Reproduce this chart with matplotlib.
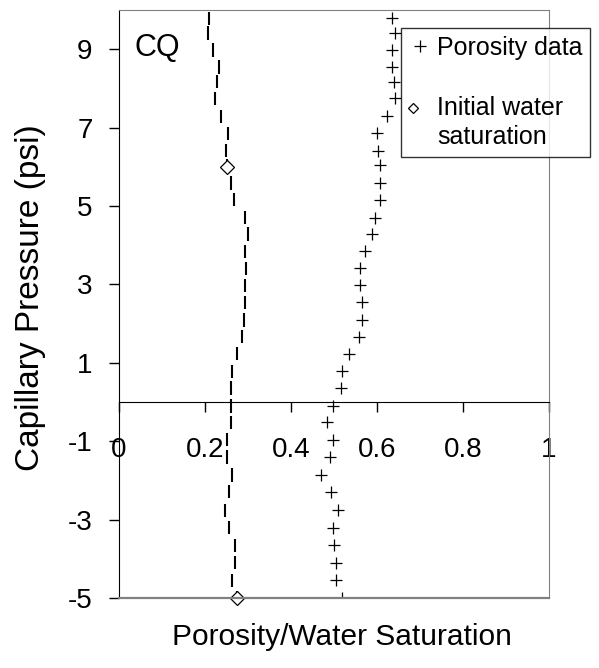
import matplotlib
matplotlib.use("Agg")
import matplotlib.pyplot as plt
import numpy as np
from matplotlib.lines import Line2D
from matplotlib.legend_handler import HandlerLine2D

plt.rcParams['font.family'] = ['Liberation Sans', 'DejaVu Sans']
plt.rcParams['axes.unicode_minus'] = False

# ---------------------------------------------------------------------------
# Data
# ---------------------------------------------------------------------------
pc_psi = [9.79, 9.41, 8.98, 8.55, 8.17, 7.75, 7.29, 6.85, 6.41, 6.04,
          5.59, 5.16, 4.70, 4.29, 3.84, 3.41, 2.98, 2.54, 2.09, 1.67,
          1.23, 0.78, 0.36, -0.10, -0.52, -0.96, -1.40, -1.86, -2.29, -2.76,
          -3.21, -3.66, -4.10, -4.55, -5.00]

porosity = [0.634, 0.642, 0.634, 0.636, 0.640, 0.641, 0.623, 0.601, 0.603, 0.606,
            0.606, 0.607, 0.595, 0.588, 0.571, 0.560, 0.560, 0.565, 0.565, 0.557,
            0.535, 0.519, 0.516, 0.498, 0.483, 0.498, 0.490, 0.470, 0.492, 0.510,
            0.498, 0.500, 0.504, 0.504, 0.518]

water_sat = [0.209, 0.207, 0.219, 0.233, 0.228, 0.223, 0.237, 0.253, 0.249, 0.251,
             0.260, 0.267, 0.293, 0.300, 0.293, 0.295, 0.293, 0.293, 0.291, 0.286,
             0.274, 0.263, 0.260, 0.260, 0.260, 0.251, 0.251, 0.263, 0.256, 0.247,
             0.256, 0.270, 0.270, 0.263, 0.274]

swi_pc = [6.0, -5.0]
swi = [0.251, 0.274]

xticks = [0, 0.2, 0.4, 0.6, 0.8, 1]
xticklabels = ["0", "0.2", "0.4", "0.6", "0.8", "1"]
yticks = [9, 7, 5, 3, 1, -1, -3, -5]
yticklabels = ["9", "7", "5", "3", "1", "-1", "-3", "-5"]


class ShiftedHandler(HandlerLine2D):
    """Legend handle that can be nudged (points)."""
    def __init__(self, dx=0.0, dy=0.0, **kw):
        super().__init__(**kw)
        self.dx, self.dy = dx, dy

    def create_artists(self, *args, **kwargs):
        arts = super().create_artists(*args, **kwargs)
        for a in arts:
            a.set_xdata(np.asarray(a.get_xdata(), float) + self.dx)
            a.set_ydata(np.asarray(a.get_ydata(), float) + self.dy)
        return arts


# ---------------------------------------------------------------------------
# Figure
# ---------------------------------------------------------------------------
fig = plt.figure(figsize=(5.99, 6.68), dpi=100)
ax = fig.add_axes([0.1987, 0.1048, 0.7178, 0.8802])

# water saturation profile: one short vertical dash per sample
half = 0.17
ax.vlines(water_sat, np.array(pc_psi) - half, np.array(pc_psi) + half,
          color="black", lw=1.5, zorder=2)
ax.plot(porosity, pc_psi, ls="none", marker="+", ms=9, mew=0.9, color="black", zorder=3)
ax.plot(swi, swi_pc, ls="none", marker="D", ms=7, mew=0.9, mfc="white", mec="black",
        clip_on=False, zorder=4)

ax.set_xlim(0, 1)
ax.set_ylim(-5, 10)

# x axis crosses at Pc = 0, plot area border in grey
ax.spines["bottom"].set_position(("data", 0))
ax.spines["bottom"].set_color("black")
ax.spines["left"].set_color("black")
for s in ["top", "right"]:
    ax.spines[s].set_color("#808080")
ax.axhline(-5, color="#808080", lw=1.6, clip_on=False, zorder=5)

ax.set_xticks(xticks)
ax.set_xticklabels(xticklabels)
ax.set_yticks(yticks)
ax.set_yticklabels(yticklabels)
ax.tick_params(axis="x", direction="out", length=7, width=1, pad=18, labelsize=20)
ax.tick_params(axis="y", direction="out", length=7, width=1, pad=12, labelsize=20)

ax.text(0.035, 9.03, "CQ", fontsize=22, ha="left", va="center")

fig.text(31 / 599, 1 - 298 / 668, "Capillary Pressure (psi)", fontsize=24,
         rotation=90, ha="center", va="center")
fig.text(342 / 599, 1 - 637 / 668, "Porosity/Water Saturation", fontsize=21.5,
         ha="center", va="center")

h_por = Line2D([], [], ls="none", marker="+", ms=9, mew=0.9, color="black")
h_swi = Line2D([], [], ls="none", marker="D", ms=5.5, mew=0.9, mfc="white", mec="black")
leg = fig.legend([h_por, h_swi], ["Porosity data", "Initial water\nsaturation"],
                 loc="upper left", bbox_to_anchor=(401 / 599, 1 - 28 / 668),
                 bbox_transform=fig.transFigure, fontsize=18, frameon=True,
                 fancybox=False, handlelength=0.8, handletextpad=0.35,
                 labelspacing=1.45, borderpad=0.3, borderaxespad=0,
                 handler_map={h_por: ShiftedHandler(dx=1.0),
                              h_swi: ShiftedHandler(dx=-4.0, dy=11)})
leg.get_frame().set_edgecolor("black")
leg.get_frame().set_linewidth(1)
plt.setp(leg.get_texts(), linespacing=1.3)

fig.savefig("out.png", dpi=100)
